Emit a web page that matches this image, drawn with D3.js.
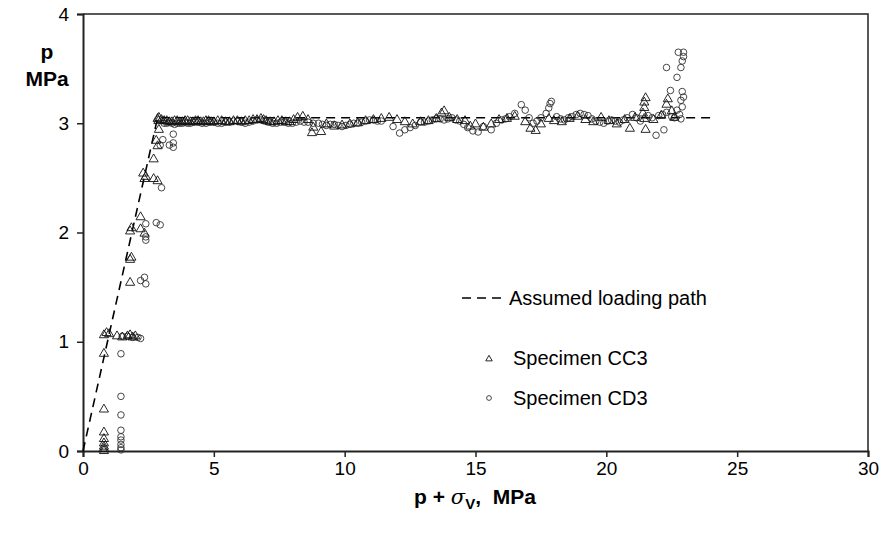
<!DOCTYPE html>
<html><head><meta charset="utf-8">
<script src="https://cdn.jsdelivr.net/npm/d3@7"></script>
<style>body{margin:0;background:#fff;} text{font-family:"Liberation Sans",Arial,sans-serif;}</style>
</head><body><svg id="c" width="886" height="544"></svg>
<script>
const xTicks = [0,5,10,15,20,25,30];
const yTicks = [0,1,2,3,4];
const loadingPath = [[0,0],[2.85,3.05],[24,3.05]];
const seriesNames = ["Assumed loading path","Specimen CC3","Specimen CD3"];
const cc3 = [
[0.8,0.01],[0.8,0.03],[0.8,0.05],[0.8,0.08],[0.8,0.12],[0.8,0.18],[0.8,0.39],[0.8,0.9],[0.8,1.07],[0.9,1.09],[1.0,1.08],[1.3,1.06],[1.5,1.05],[1.7,1.06],[1.8,1.07],[1.9,1.05],[2.0,1.06],
[1.8,1.55],[1.8,1.76],[1.85,1.78],[1.8,2.02],[1.85,2.05],[2.2,2.04],[2.35,2.0],[2.2,2.15],[2.35,2.5],[2.3,2.55],[2.4,2.52],[2.7,2.5],[2.85,2.48],[2.7,2.68],[2.85,2.8],[2.8,2.85],[2.9,2.95],[2.85,3.05],[2.9,3.06],[2.88,3.03],
[3.0,3.04],[3.1,3.03],[3.2,3.03],[3.3,3.02],[3.4,3.02],[3.5,3.03],[3.6,3.03],[3.7,3.02],[3.8,3.02],[3.9,3.03],[4.0,3.03],[4.1,3.02],[4.2,3.02],[4.3,3.03],[4.4,3.03],[4.5,3.02],[4.6,3.02],[4.7,3.03],[4.8,3.03],[4.9,3.02],[5.0,3.02],[5.15,3.03],[5.3,3.03],[5.45,3.02],[5.6,3.02],[5.75,3.03],[5.9,3.03],[6.05,3.02],[6.2,3.03],[6.35,3.03],[6.5,3.04],[6.65,3.04],[6.8,3.05],[6.9,3.04],[7.0,3.03],[7.15,3.02],[7.3,3.02],[7.45,3.03],[7.6,3.03],[7.75,3.02],[7.9,3.02],[8.05,3.04],[8.2,3.06],[8.4,3.07],[8.6,3.04],[8.75,2.92],[8.8,2.97],[9.1,2.93],[9.3,3.0],[9.6,2.98],[9.9,2.99],[10.2,3.0],[10.5,3.01],[10.8,3.03],[11.1,3.04],[11.4,3.05],[11.7,3.06],[12.0,3.04],[12.3,3.02],[12.6,3.0],[12.9,3.02],[13.2,3.03],[13.5,3.05],[13.7,3.1],[13.8,3.12],[14.0,3.06],[14.3,3.04],[14.6,3.03],[14.8,2.98],[15.0,3.0],[15.3,2.97],[15.6,3.0],[15.9,3.04],[16.2,3.05],[16.5,3.07],[16.9,3.02],[17.1,2.96],[17.3,2.94],[17.5,3.0],[17.8,3.05],[18.0,3.03],[18.3,3.02],[18.6,3.05],[18.9,3.07],[19.2,3.04],[19.5,3.02],[19.8,3.06],[20.1,3.03],[20.4,3.0],[20.7,3.04],[20.9,2.96],[21.1,3.06],[21.4,3.1],[21.45,3.15],[21.45,3.2],[21.5,3.24],[21.45,3.05],[21.5,2.95],[21.8,3.04],[22.1,3.08],[22.3,3.18],[22.35,3.23],[22.5,3.12],[22.6,3.06]
];
const cd3 = [
[1.45,0.01],[1.45,0.03],[1.45,0.06],[1.45,0.1],[1.45,0.13],[1.45,0.19],[1.45,0.33],[1.45,0.5],[1.45,0.89],[1.5,1.05],[1.7,1.05],[1.9,1.04],[2.1,1.04],[2.2,1.03],
[2.2,1.56],[2.4,1.53],[2.35,1.59],[2.4,1.93],[2.4,1.96],[2.4,2.08],[2.8,2.09],[2.95,2.07],[3.0,2.41],[2.95,2.8],[3.3,2.8],[3.45,2.78],[3.45,2.82],[3.45,2.9],[3.05,2.85],
[3.1,3.0],[3.2,3.0],[3.3,3.01],[3.4,3.0],[3.5,2.99],[3.6,3.0],[3.7,3.0],[3.8,3.0],[3.9,3.01],[4.0,3.0],[4.1,3.0],[4.25,3.01],[4.4,3.01],[4.55,3.0],[4.7,3.0],[4.85,3.01],[5.0,3.01],[5.15,3.0],[5.3,3.0],[5.45,3.01],[5.6,3.01],[5.75,3.02],[5.9,3.02],[6.05,3.01],[6.2,3.0],[6.35,3.01],[6.5,3.02],[6.65,3.03],[6.8,3.03],[6.95,3.02],[7.1,3.01],[7.25,3.0],[7.4,3.0],[7.55,3.01],[7.7,3.01],[7.85,3.0],[8.0,3.0],[8.15,3.01],[8.3,3.02],[8.45,3.01],[8.6,3.01],[8.8,3.0],[9.0,3.0],[9.15,2.99],[9.3,2.98],[9.45,2.99],[9.6,2.99],[9.75,2.98],[9.9,2.97],[10.05,2.98],[10.2,2.99],[10.35,3.0],[10.5,3.0],[10.65,3.01],[10.8,3.02],[10.95,3.03],[11.1,3.03],[11.25,3.02],[11.4,3.02],[11.85,2.97],[12.1,2.91],[12.3,2.94],[12.5,2.96],[12.7,2.98],[12.9,3.01],[13.05,3.01],[13.2,3.02],[13.35,3.03],[13.5,3.04],[13.65,3.04],[13.8,3.03],[13.95,3.04],[14.1,3.05],[14.25,3.03],[14.4,3.02],[14.55,2.99],[14.7,2.96],[14.9,2.93],[15.1,2.92],[15.3,2.97],[15.6,2.94],[15.8,3.0],[16.0,3.03],[16.15,3.04],[16.3,3.06],[16.5,3.09],[16.75,3.17],[16.9,3.12],[17.05,3.05],[17.2,3.0],[17.35,3.02],[17.5,3.05],[17.7,3.09],[17.8,3.14],[17.85,3.18],[17.9,3.2],[18.1,3.06],[18.25,3.04],[18.4,3.03],[18.55,3.05],[18.7,3.06],[18.85,3.08],[19.0,3.09],[19.15,3.08],[19.3,3.07],[19.45,3.04],[19.6,3.02],[19.75,3.01],[19.9,3.0],[20.05,3.02],[20.2,3.03],[20.35,3.02],[20.5,3.01],[20.65,3.03],[20.8,3.05],[21.0,3.08],[21.15,3.05],[21.3,3.02],[21.6,3.07],[21.75,3.05],[21.9,2.89],[22.2,2.94],[22.0,3.07],[22.15,3.08],[22.3,3.1],[22.45,3.3],[22.3,3.51],[22.7,3.42],[22.75,3.65],[22.95,3.65],[22.95,3.61],[22.9,3.57],[22.85,3.51],[22.9,3.29],[22.95,3.24],[22.85,3.21],[22.6,3.05],[22.8,3.08],[22.9,3.15],[22.7,3.12],[22.5,3.06],[22.85,3.04]
];

const svg = d3.select("#c");
const m = {l:83, r:868, t:14, b:451};
const x = d3.scaleLinear().domain([0,30]).range([m.l, m.r]);
const y = d3.scaleLinear().domain([0,4]).range([m.b, m.t]);

svg.append("path").attr("d",`M${m.l},${m.t}H${m.r}V${m.b}`).attr("fill","none").attr("stroke","#222").attr("stroke-width",1.5);

const xAxis = svg.append("g").attr("transform",`translate(0,${m.b})`)
  .call(d3.axisBottom(x).tickValues(xTicks).tickSize(6).tickPadding(5).tickFormat(d3.format("d")));
const yAxis = svg.append("g").attr("transform",`translate(${m.l},0)`)
  .call(d3.axisLeft(y).tickValues(yTicks).tickSize(6).tickPadding(8).tickFormat(d3.format("d")));
[xAxis,yAxis].forEach(g=>{
  g.select(".domain").attr("stroke","#222").attr("stroke-width",2);
  g.selectAll(".tick line").attr("stroke","#222").attr("stroke-width",1.5);
  g.selectAll(".tick text").attr("font-size",19).attr("fill","#000").attr("font-family","'Liberation Sans', Arial, sans-serif");
});

const line = d3.line().x(d=>x(d[0])).y(d=>y(d[1]));
svg.append("path").datum(loadingPath).attr("d",line).attr("fill","none")
  .attr("stroke","#000").attr("stroke-width",1.6).attr("stroke-dasharray","9,6");

const tri = d3.symbol().type(d3.symbolTriangle).size(36);
const cir = d3.symbol().type(d3.symbolCircle).size(34);
svg.append("g").selectAll("path").data(cd3).join("path")
  .attr("d",cir).attr("transform",d=>`translate(${x(d[0])},${y(d[1])})`)
  .attr("fill","none").attr("stroke","#333").attr("stroke-width",0.9);
svg.append("g").selectAll("path").data(cc3).join("path")
  .attr("d",tri).attr("transform",d=>`translate(${x(d[0])},${y(d[1])+1})`)
  .attr("fill","none").attr("stroke","#111").attr("stroke-width",0.9);

const lg = svg.append("g");
lg.append("line").attr("x1",462).attr("x2",507).attr("y1",298).attr("y2",298)
  .attr("stroke","#000").attr("stroke-width",1.6).attr("stroke-dasharray","9,6");
lg.append("path").attr("d",d3.symbol().type(d3.symbolTriangle).size(18)).attr("transform","translate(489,359)")
  .attr("fill","none").attr("stroke","#111").attr("stroke-width",0.9);
lg.append("path").attr("d",d3.symbol().type(d3.symbolCircle).size(18)).attr("transform","translate(489,398)")
  .attr("fill","none").attr("stroke","#333").attr("stroke-width",0.9);
const ly = [298,358,398], lx = [509,513,513];
seriesNames.forEach((s,i)=>lg.append("text").attr("x",lx[i]).attr("y",ly[i]).attr("dy","0.35em")
  .attr("font-size",20).text(s));

const yt = svg.append("text").attr("font-size",21).attr("font-weight","bold").attr("text-anchor","middle");
yt.append("tspan").attr("x",47).attr("y",59).text("p");
yt.append("tspan").attr("x",47).attr("y",86).text("MPa");
const xt = svg.append("text").attr("x",475).attr("y",504).attr("font-size",21).attr("font-weight","bold").attr("text-anchor","middle");
xt.append("tspan").text("p + ");
xt.append("tspan").attr("font-style","italic").attr("font-weight","normal").attr("font-family","'DejaVu Serif', serif").text("σ");
xt.append("tspan").attr("font-size",15).attr("dy",5).text("V");
xt.append("tspan").attr("dy",-5).attr("xml:space","preserve").text(",  MPa");
</script></body></html>
